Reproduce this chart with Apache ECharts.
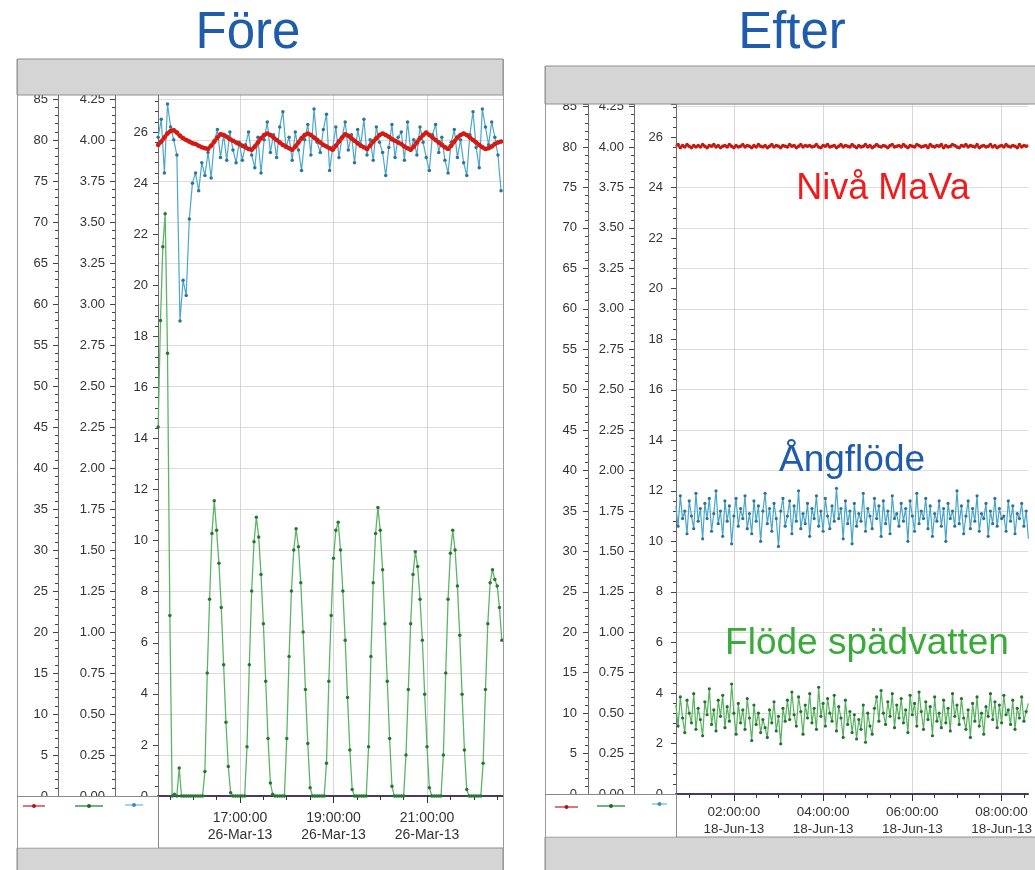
<!DOCTYPE html>
<html><head><meta charset="utf-8">
<script src="https://cdn.jsdelivr.net/npm/echarts@6/dist/echarts.min.js"></script>
<style>html,body{margin:0;padding:0;background:#fff;overflow:hidden}#c{width:1035px;height:870px}</style>
</head><body><div id="c"></div>
<script>
// ================= DATA =================
const PANEL_TITLES = ['Före', 'Efter'];
const SERIES_NAMES = ['Nivå MaVa', 'Flöde spädvatten', 'Ångflöde'];
const LEFT_DATE = '26-Mar-13';
const RIGHT_DATE = '18-Jun-13';
const LEFT_TICK_LABELS = ['17:00', '19:00', '21:00'];
const LEFT_MINOR_TICKS = ['15:30','16:00','16:30','17:30','18:00','18:30','19:30','20:00','20:30','21:30','22:00','22:30'];
const RIGHT_TICK_LABELS = ['02:00', '04:00', '06:00', '08:00'];
const RIGHT_MINOR_TICKS = ['01:00','01:30','02:30','03:00','03:30','04:30','05:00','05:30','06:30','07:00','07:30','08:30'];
const Y1_STEP = 5, Y2_STEP = 0.25, Y3_STEP = 2;   // tick steps of the three value axes

// Före (26-Mar-13), sampled from 15:15
const LEFT_START = '15:15';
const LEFT_RB_STEP = 4;   // minutes between samples (red, blue)
const LEFT_G_STEP = 3;    // minutes between samples (green)
const LEFT_RED = [79.4,79.8,80.3,80.8,81.1,81.2,80.9,80.5,80.2,80.0,79.8,79.6,79.5,79.3,79.1,79.0,78.9,79.3,79.8,80.3,
  80.7,80.6,80.4,80.1,79.9,79.7,79.5,79.3,79.1,78.9,78.8,79.2,79.7,80.2,80.6,80.8,80.6,80.3,80.0,79.7,
  79.4,79.2,79.0,78.8,79.2,79.7,80.2,80.6,80.8,80.6,80.3,80.0,79.7,79.4,79.2,79.0,78.8,79.3,79.8,80.3,
  80.7,80.5,80.2,79.9,79.6,79.3,79.1,78.9,79.3,79.8,80.2,80.6,80.8,80.6,80.4,80.1,79.9,79.7,79.5,79.2,
  79.0,78.8,79.2,79.7,80.2,80.6,80.9,80.6,80.3,80.0,79.7,79.4,79.1,78.9,79.3,79.8,80.3,80.6,80.8,80.6,
  80.3,80.0,79.7,79.4,79.1,78.9,79.0,79.2,79.5,79.7,79.8];
const LEFT_BLUE = [25.8,26.5,24.4,27.1,26.2,25.7,25.1,18.6,20.2,19.6,22.6,24.0,24.4,
  23.7,24.8,24.3,25.2,24.2,25.6,26.1,25.0,25.9,24.9,26.0,25.3,
  24.8,25.6,24.9,25.5,26.0,25.1,24.6,25.8,24.4,25.7,26.4,25.2,
  25.9,25.0,26.2,26.8,25.4,25.8,24.9,26.0,25.3,24.5,25.7,26.3,
  25.1,26.9,25.6,25.2,26.1,26.7,24.5,25.4,26.2,25.0,25.8,26.4,
  25.3,25.9,24.8,26.1,25.5,26.5,25.1,25.7,24.9,26.2,25.6,25.2,
  24.3,25.4,26.3,25.0,25.8,26.0,24.9,26.4,25.3,25.7,25.1,26.2,
  25.6,25.0,24.5,25.9,26.3,25.2,25.8,24.9,24.4,25.6,26.1,25.0,
  25.7,24.8,24.3,25.9,26.8,25.4,24.6,26.9,26.2,25.5,26.4,25.8,25.1,23.7];
const LEFT_GREEN = [2.25,2.90,3.35,3.55,2.70,1.10,0.00,0.01,0.00,0.17,0.00,
  0,0,0,0,0,0,0,0,0,
  0.15,0.75,1.20,1.60,1.80,1.62,1.42,1.15,0.80,0.45,0.18,0.02,
  0,0,0,0,0,0,
  0.30,0.80,1.25,1.55,1.70,1.58,1.35,1.05,0.70,0.35,0.08,0.01,
  0,0,0,0,0,
  0.35,0.85,1.25,1.50,1.63,1.52,1.30,1.00,0.65,0.32,0.05,
  0,0,0,0,0,0,
  0.20,0.70,1.10,1.45,1.62,1.67,1.50,1.25,0.95,0.60,0.28,0.04,
  0,0,0,0,0,0,
  0.30,0.85,1.30,1.60,1.76,1.62,1.38,1.05,0.70,0.35,0.06,
  0,0,0,0,0,
  0.25,0.65,1.05,1.35,1.49,1.40,1.20,0.95,0.62,0.30,0.05,
  0,0,0,0,0,
  0.25,0.75,1.20,1.48,1.62,1.50,1.28,0.98,0.62,0.28,0.04,
  0,0,0,0,0,0,
  0.20,0.65,1.05,1.30,1.38,1.32,1.28,1.15,0.95];

// Efter (18-Jun-13), sampled from 00:42
const RIGHT_START = '00:42';
const RIGHT_STEP = 3;
const RIGHT_RED = [80.1,80.3,79.9,80.2,80.0,80.3,80.1,79.9,80.2,80.0,
  80.2,80.0,80.3,80.1,79.9,80.2,80.1,80.3,80.0,80.2,
  79.9,80.1,80.2,80.0,80.3,80.1,79.9,80.2,80.0,80.1,
  80.3,80.0,80.2,80.1,79.9,80.2,80.0,80.3,80.1,80.0,
  80.2,79.9,80.1,80.3,80.0,80.2,80.1,79.9,80.2,80.1,
  80.0,80.3,80.1,80.2,79.9,80.1,80.3,80.0,80.2,80.1,
  80.2,80.0,80.1,80.3,80.0,79.9,80.2,80.1,80.3,80.0,
  80.1,80.2,79.9,80.1,80.3,80.0,80.2,80.1,80.0,80.3,
  80.1,79.9,80.2,80.0,80.1,80.3,80.0,80.2,79.9,80.1,
  80.3,80.1,80.0,80.2,80.1,79.9,80.2,80.3,80.0,80.1,
  80.2,80.0,80.3,80.1,79.9,80.2,80.1,80.0,80.3,80.2,
  80.0,80.1,80.2,79.9,80.3,80.1,80.0,80.2,80.1,80.3,
  79.9,80.2,80.0,80.1,80.3,80.2,80.0,79.9,80.2,80.1,
  80.3,80.0,80.2,80.1,80.0,80.3,79.9,80.1,80.2,80.0,
  80.1,80.3,80.0,80.2,79.9,80.1,80.2,80.0,80.3,80.1,
  80.0,80.2,80.1,79.9,80.3,80.0,80.2,80.1,80.2];
const RIGHT_BLUE = [11.4,10.6,11.8,10.9,11.2,10.3,11.6,11.0,10.5,11.9,
  10.8,11.3,10.1,11.5,10.9,11.7,10.4,11.1,12.0,10.7,
  11.2,10.2,11.6,10.8,11.4,9.9,11.0,11.7,10.6,11.3,
  10.9,11.8,10.5,11.1,10.3,11.6,10.8,11.4,10.0,11.2,
  11.9,10.7,11.3,10.4,11.5,10.9,9.8,11.2,11.7,10.6,
  11.0,11.6,10.3,11.4,10.8,12.0,10.5,11.1,10.7,11.5,
  10.2,11.3,10.9,11.8,10.6,11.2,10.4,11.7,11.0,10.5,
  11.4,10.8,12.1,10.9,11.3,10.1,11.6,10.7,11.2,9.9,
  11.5,10.6,11.1,10.8,11.9,10.4,11.3,11.0,10.5,11.7,
  10.9,11.4,10.2,11.6,10.7,11.2,10.3,11.8,10.9,11.1,
  10.6,11.5,10.8,11.3,10.0,11.6,11.0,10.4,11.9,10.7,
  11.2,10.9,11.7,10.5,11.4,10.2,11.1,10.8,11.6,10.6,
  11.3,10.0,11.5,10.9,11.2,10.6,12.0,10.7,11.4,10.3,
  11.0,11.6,10.5,11.3,10.8,11.8,10.4,11.1,10.9,11.5,
  10.2,11.2,10.7,11.7,10.6,11.3,10.9,11.0,10.4,11.6,
  10.8,11.4,10.3,11.1,10.9,11.5,10.6,11.2,10.1];
const RIGHT_GREEN = [0.55,0.42,0.60,0.47,0.38,0.58,0.50,0.44,0.62,0.40,
  0.53,0.46,0.36,0.57,0.49,0.65,0.43,0.52,0.39,0.58,
  0.48,0.61,0.41,0.54,0.45,0.68,0.50,0.37,0.56,0.44,
  0.52,0.40,0.59,0.47,0.33,0.55,0.43,0.50,0.38,0.46,
  0.41,0.35,0.52,0.44,0.57,0.39,0.48,0.31,0.53,0.45,
  0.58,0.46,0.63,0.49,0.42,0.60,0.51,0.37,0.55,0.47,
  0.62,0.44,0.53,0.40,0.66,0.48,0.56,0.42,0.59,0.50,
  0.45,0.61,0.39,0.54,0.47,0.35,0.58,0.43,0.51,0.38,
  0.49,0.34,0.46,0.40,0.55,0.32,0.50,0.42,0.37,0.53,
  0.60,0.45,0.64,0.50,0.43,0.57,0.48,0.62,0.41,0.55,
  0.47,0.59,0.44,0.52,0.38,0.61,0.49,0.56,0.42,0.63,
  0.51,0.40,0.57,0.46,0.54,0.36,0.60,0.45,0.50,0.41,
  0.58,0.44,0.53,0.39,0.62,0.48,0.55,0.43,0.59,0.47,
  0.40,0.52,0.35,0.56,0.45,0.60,0.42,0.50,0.37,0.54,
  0.48,0.62,0.46,0.57,0.41,0.55,0.44,0.61,0.49,0.52,
  0.43,0.58,0.40,0.53,0.47,0.60,0.45,0.51,0.56];

// ================= CHART =================
const FONT = '"Liberation Sans", Arial, sans-serif';
const toMin = s => { const p = s.split(':').map(Number); return p[0] * 60 + p[1]; };
const pad = n => String(n).padStart(2, '0');
const fmtTime = (v, date) => { const t = Math.round(v); return pad(Math.floor(t / 60) % 24) + ':' + pad(t % 60) + ':00\n' + date; };
const toSeries = (arr, start, step) => arr.map((v, i) => [toMin(start) + i * step, v]);
const isStep = (v, s) => Math.abs(v / s - Math.round(v / s)) < 1e-6;

function yAxis(grid, max, step, dec, offset, split, margin) {
  return {
    type: 'value', gridIndex: grid, position: 'left', offset: offset, min: 0, max: max, interval: step,
    axisLine: { show: true, onZero: false, lineStyle: { color: '#6c6c6c', width: 1 } },
    axisTick: { show: true, length: 5, lineStyle: { color: '#444' } },
    minorTick: { show: true, splitNumber: 5, length: 3, lineStyle: { color: '#444' } },
    axisLabel: { margin: margin, color: '#333', fontSize: 13, fontFamily: FONT,
      formatter: v => isStep(v, step) ? v.toFixed(dec) : '' },
    splitLine: { show: split, lineStyle: { color: '#dcdcdc', width: 1 } },
    minorSplitLine: { show: false }
  };
}
function xMain(grid, min, max, ticks, date, margin, fs, lh) {
  const vals = ticks.map(toMin);
  return {
    type: 'value', gridIndex: grid, position: 'bottom', min: min, max: max,
    axisLine: { show: true, onZero: false, lineStyle: { color: '#4a3a63', width: 2 } },
    axisTick: { show: true, customValues: vals, length: 7, lineStyle: { color: '#333' } },
    axisLabel: { show: true, customValues: vals, margin: margin, color: '#333', fontSize: fs, lineHeight: lh,
      fontFamily: FONT, formatter: v => fmtTime(v, date) },
    splitLine: { show: true, lineStyle: { color: '#d6d6d6', width: 1 } }
  };
}
function xMinor(grid, min, max, ticks) {
  return {
    type: 'value', gridIndex: grid, position: 'bottom', min: min, max: max,
    axisLine: { show: false, onZero: false },
    axisTick: { show: true, customValues: ticks.map(toMin), length: 4, lineStyle: { color: '#333' } },
    axisLabel: { show: false }, splitLine: { show: false }
  };
}
function lineSeries(name, xi, yi, data, lc, lw, dc, ds, z) {
  return { type: 'line', name: name, xAxisIndex: xi, yAxisIndex: yi, data: data,
    symbol: 'circle', symbolSize: ds, showSymbol: true,
    lineStyle: { color: lc, width: lw }, itemStyle: { color: dc },
    z: z, silent: true, animation: false, emphasis: { disabled: true } };
}

// decorations
const rect = (x, y, w, h, fill, stroke, z) => ({ type: 'rect', shape: { x: x, y: y, width: w, height: h },
  style: { fill: fill, stroke: stroke || null, lineWidth: stroke ? 1 : 0 }, z: z, silent: true });
const seg = (x1, y1, x2, y2, color, w, z) => ({ type: 'line', shape: { x1: x1, y1: y1, x2: x2, y2: y2 },
  style: { stroke: color, lineWidth: w }, z: z, silent: true });
const txt = (x, y, s, size, color) => ({ type: 'text', x: x, y: y, z: 130, silent: true,
  style: { text: s, fill: color, font: size + 'px ' + FONT, textAlign: 'center', textVerticalAlign: 'middle', align: 'center', verticalAlign: 'middle' } });
const key = (x1, x2, y, lc, dc) => [seg(x1, y, x2, y, lc, 1.5, 120),
  { type: 'circle', shape: { cx: (x1 + x2) / 2, cy: y, r: 2 }, style: { fill: dc }, z: 121, silent: true }];

const GRAY = '#d5d5d5', EDGE = '#8f8f8f';
const graphics = [].concat(
  [ rect(17, 59, 486, 36, GRAY, EDGE, 100), rect(17, 848, 486, 30, GRAY, EDGE, 100),
    rect(18, 797, 140, 50.5, '#fff', null, 100),
    seg(17.5, 59, 17.5, 870, '#9a9a9a', 1, 101), seg(503.5, 59, 503.5, 870, '#9a9a9a', 1, 101),
    seg(17, 796.5, 158, 796.5, '#8a8a8a', 1, 101), seg(158.5, 796, 158.5, 848, '#8a8a8a', 1, 101),
    rect(545, 66, 495, 38, GRAY, EDGE, 100), rect(545, 837, 495, 40, GRAY, EDGE, 100),
    rect(546, 795, 130, 41.5, '#fff', null, 100),
    seg(545.5, 66, 545.5, 870, '#9a9a9a', 1, 101),
    seg(545, 794.5, 676, 794.5, '#8a8a8a', 1, 101), seg(676.5, 794, 676.5, 837, '#8a8a8a', 1, 101) ],
  key(23, 45, 806, '#d24a4a', '#9e1a1a'), key(75, 103, 806, '#3e9a4e', '#1f6a2b'), key(125, 143, 805, '#86c6e2', '#3c8db3'),
  key(555, 578, 807, '#d24a4a', '#9e1a1a'), key(597, 625, 806, '#3e9a4e', '#1f6a2b'), key(652, 667, 804, '#86c6e2', '#3c8db3'),
  [ txt(248, 34, PANEL_TITLES[0], 51, '#1f5cab'), txt(792, 34, PANEL_TITLES[1], 51, '#1f5cab'),
    txt(883, 189, SERIES_NAMES[0], 36, '#ee1c1c'),
    txt(852, 461, SERIES_NAMES[2], 37, '#1f5cab'),
    txt(867, 644, SERIES_NAMES[1], 37, '#3aaa3a') ]
);

const chart = echarts.init(document.getElementById('c'), null, { renderer: 'canvas', width: 1035, height: 870 });
chart.setOption({
  animation: false,
  backgroundColor: '#ffffff',
  textStyle: { fontFamily: FONT },
  grid: [
    { left: 158, top: 92, right: 532, bottom: 74 },
    { left: 676, top: 104, right: 0, bottom: 76 }
  ],
  xAxis: [
    xMain(0, 914.8, 1357.5, LEFT_TICK_LABELS, LEFT_DATE, 13.5, 14, 17),
    xMinor(0, 914.8, 1357.5, LEFT_MINOR_TICKS),
    xMain(1, 42.2, 515.6, RIGHT_TICK_LABELS, RIGHT_DATE, 10, 13.5, 17),
    xMinor(1, 42.2, 515.6, RIGHT_MINOR_TICKS)
  ],
  yAxis: [
    yAxis(0, 85.85, Y1_STEP, 0, 100, true, 10),
    yAxis(0, 4.293, Y2_STEP, 2, 43, false, 10),
    yAxis(0, 27.57, Y3_STEP, 0, 0, false, 10),
    yAxis(1, 85.32, Y1_STEP, 0, 88, true, 11),
    yAxis(1, 4.266, Y2_STEP, 2, 42, false, 10),
    yAxis(1, 27.31, Y3_STEP, 0, 0, false, 13)
  ],
  series: [
    lineSeries(SERIES_NAMES[2], 0, 2, toSeries(LEFT_BLUE, LEFT_START, LEFT_RB_STEP), '#4aa8cf', 1.2, '#2f7594', 3.5, 3),
    lineSeries(SERIES_NAMES[1], 0, 1, toSeries(LEFT_GREEN, LEFT_START, LEFT_G_STEP), '#5cb566', 1.3, '#2a7535', 3.5, 4),
    lineSeries(SERIES_NAMES[0], 0, 0, toSeries(LEFT_RED, LEFT_START, LEFT_RB_STEP), '#ee2a1e', 4, '#d21a12', 4.5, 5),
    lineSeries(SERIES_NAMES[2], 2, 5, toSeries(RIGHT_BLUE, RIGHT_START, RIGHT_STEP), '#48a6cc', 1.2, '#2d7391', 3.2, 3),
    lineSeries(SERIES_NAMES[1], 2, 4, toSeries(RIGHT_GREEN, RIGHT_START, RIGHT_STEP), '#56b35e', 1.2, '#237030', 3.2, 4),
    lineSeries(SERIES_NAMES[0], 2, 3, toSeries(RIGHT_RED, RIGHT_START, RIGHT_STEP), '#e82a1e', 2.5, '#c41a12', 3.5, 5)
  ],
  graphic: { elements: graphics }
});
</script>
</body></html>
